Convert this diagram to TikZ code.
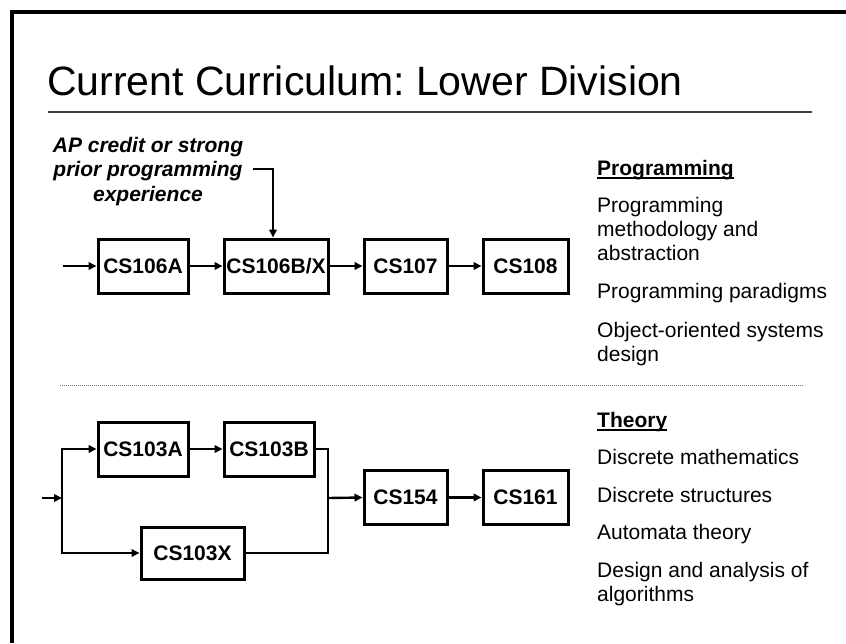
\documentclass[tikz,border=0pt]{standalone}
\usepackage{fontspec}
\setmainfont{Liberation Sans}
\usetikzlibrary{arrows.meta}
\frenchspacing

\begin{document}
\begin{tikzpicture}[x=1pt,y=-1pt,
  course/.style={draw=black,line width=3pt,fill=white,minimum height=54pt,
    inner sep=0pt,font=\fontsize{21}{24}\selectfont\bfseries},
  link/.style={line width=2.4pt,-{Triangle[length=8pt,width=7.5pt]}},
  wire/.style={line width=2.4pt},
  note/.style={anchor=base,inner sep=0pt,font=\fontsize{21}{24}\selectfont\bfseries\itshape},
  item/.style={anchor=base west,inner sep=0pt,font=\fontsize{21}{24}\selectfont},
  head/.style={anchor=base west,inner sep=0pt,font=\fontsize{21}{24}\selectfont\bfseries},
  uline/.style={line width=1.6pt}]

\useasboundingbox (0,0) rectangle (846,643);

% slide frame (top and left edges)
\draw[line width=4pt,line join=miter] (12,643) -- (12,12) -- (846,12);

% title and rule
\node[anchor=base west,inner sep=0pt,font=\fontsize{41}{45}\selectfont] (title) at (47,95) {Current Curriculum: Lower Division};
\draw[line width=1.5pt,black!75] (48,112) -- (812,112);

% programming sequence
\node[course,minimum width=90pt] (a) at (143,266) {CS106A};
\node[course,minimum width=104pt] (b) at (276,266) {CS106B/X};
\node[course,minimum width=83pt] (c) at (405.5,266) {CS107};
\node[course,minimum width=85pt] (d) at (525.5,266) {CS108};

\node[note] (ap1) at (148,152) {AP credit or strong};
\node[note] (ap2) at (148,176.5) {prior programming};
\node[note] (ap3) at (148,201) {experience};

\coordinate (in1) at (63,266);
\draw[link] (in1) -- (a.west);
\draw[link] (a.east) -- (b.west);
\draw[link] (b.east) -- (c.west);
\draw[link] (c.east) -- (d.west);
\draw[link] ([xshift=10pt,yshift=2pt]ap2.east) -| ([xshift=-3pt]b.north);

% separator
\draw[line width=1pt,black!55,dash pattern=on 1pt off 1pt] (60,385) -- (803,385);

% theory sequence
\node[course,minimum width=90pt] (a3) at (143,449) {CS103A};
\node[course,minimum width=90pt] (b3) at (269,449) {CS103B};
\node[course,minimum width=103pt,minimum height=52pt] (x3) at (192.5,553) {CS103X};
\node[course,minimum width=83pt] (e) at (405.5,497.5) {CS154};
\node[course,minimum width=85pt] (f) at (525.5,497.5) {CS161};

\coordinate (in2) at (42,498);
\coordinate (jl) at (62,498);
\coordinate (jr) at (328,498);
\draw[link] (in2) -- (jl);
\draw[link] (jl) |- (a3.west);
\draw[link] (jl) |- (x3.west);
\draw[link] (a3.east) -- (b3.west);
\draw[wire] (b3.east) -| (jr);
\draw[wire] (x3.east) -| (jr);
\draw[link] (jr) -- (e.west);
\draw[link] (e.east) -- (f.west);

% programming topics
\node[head] (hp) at (597,175) {Programming};
\draw[uline] ([yshift=-3pt]hp.base west) -- ([yshift=-3pt]hp.base east);
\node[item] (p1) at (597,212) {Programming};
\node[item] (p2) at (597,236) {methodology and};
\node[item] (p3) at (597,260) {abstraction};
\node[item] (p4) at (597,298) {Programming paradigms};
\node[item] (p5) at (597,337) {Object-oriented systems};
\node[item] (p6) at (597,361) {design};

% theory topics
\node[head] (ht) at (597,427) {Theory};
\draw[uline] ([yshift=-3pt]ht.base west) -- ([yshift=-3pt]ht.base east);
\node[item] (t1) at (597,464) {Discrete mathematics};
\node[item] (t2) at (597,502) {Discrete structures};
\node[item] (t3) at (597,539) {Automata theory};
\node[item] (t4) at (597,577) {Design and analysis of};
\node[item] (t5) at (597,601) {algorithms};

\end{tikzpicture}
\end{document}
